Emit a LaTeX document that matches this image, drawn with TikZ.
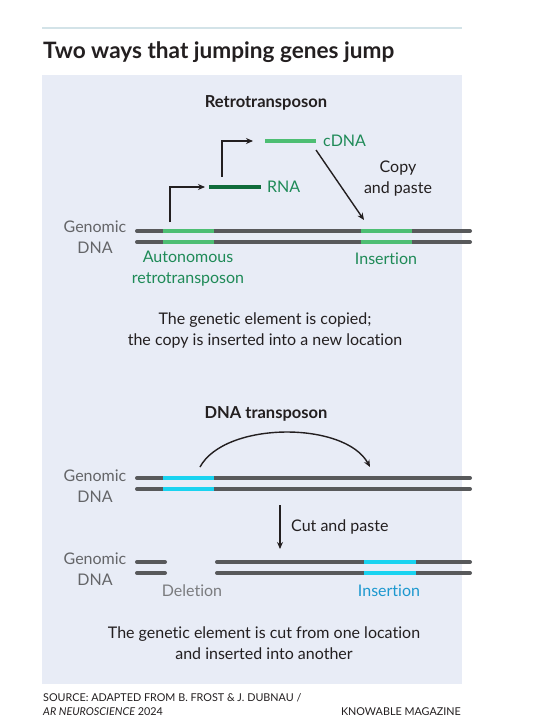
\documentclass[tikz,border=0pt]{standalone}
\usepackage{fontspec}
\setmainfont{Lato}[Ligatures=NoCommon]
\usetikzlibrary{arrows.meta}

\definecolor{panel}{HTML}{E8ECF6}
\definecolor{rulec}{HTML}{D3E3E8}
\definecolor{ink}{HTML}{231F20}
\definecolor{strandgray}{HTML}{58595B}
\definecolor{labgray}{HTML}{646568}
\definecolor{lightgreen}{HTML}{4DBE73}
\definecolor{darkgreen}{HTML}{0F6B3A}
\definecolor{greentext}{HTML}{1E8A57}
\definecolor{cyanseg}{HTML}{19D3F0}
\definecolor{bluetext}{HTML}{1C98CF}

\begin{document}
\begin{tikzpicture}[x=1pt, y=-1pt,
	strand/.style={line width=4pt, line cap=round, draw=strandgray},
	seg/.style={line width=4pt, draw=#1},
	jump/.style={line width=1.4pt, draw=ink, -{Stealth[length=7pt,width=6pt]}},
	lbl/.style={font=\fontsize{16}{21}\selectfont, inner sep=0pt, align=center},
	head/.style={font=\bfseries\fontsize{16.5}{18}\selectfont, inner sep=0pt, text=ink},
	foot/.style={font=\fontsize{10.8}{14}\selectfont, inner sep=0pt, text=ink}]
	\useasboundingbox (0,0) rectangle (552,719);
	\fill[white] (0,0) rectangle (552,719);
	\draw[rulec, line width=2pt] (42,28) -- (462,28);
	\node[font=\bfseries\fontsize{22.6}{26}\selectfont, anchor=base west, inner sep=0pt, text=ink] (title) at (43,59) {Two ways that jumping genes jump};
	\fill[panel] (42,75) rectangle (462,684);

	% retrotransposon
	\node[head] (rt) at (266,103) {Retrotransposon};
	\coordinate (g1l) at (137,231);
	\coordinate (g1r) at (470,231);
	\coordinate (g2l) at (137,242);
	\coordinate (g2r) at (470,242);
	\draw[strand] (g1l)--(g1r);
	\draw[strand] (g2l)--(g2r);
	\draw[seg=lightgreen] (163,231)--(214,231);
	\draw[seg=lightgreen] (163,242)--(214,242);
	\draw[seg=lightgreen] (361,231)--(412,231);
	\draw[seg=lightgreen] (361,242)--(412,242);
	\node[lbl, text=labgray] (gd1) at (95,237) {Genomic\\DNA};

	\coordinate (r1) at (209,187);
	\coordinate (r2) at (261,187);
	\draw[seg=darkgreen] (r1)--(r2);
	\node[lbl, anchor=west, text=greentext] (rna) at (267,187) {RNA};
	\coordinate (c1) at (265,141);
	\coordinate (c2) at (316,141);
	\draw[seg=lightgreen] (c1)--(c2);
	\node[lbl, anchor=west, text=greentext] (cdna) at (323,141) {cDNA};

	\coordinate (s1) at (170,222);
	\coordinate (s2) at (222,177);
	\coordinate (cs) at (316,150);
	\coordinate (ci) at (364,220);
	\draw[jump] (s1) |- ([xshift=-4pt]r1);
	\draw[jump] (s2) |- ([xshift=-12pt]c1);
	\draw[jump] (cs)--(ci);
	\node[lbl, text=ink] (cp) at (398,179) {Copy\\and paste};

	\node[lbl, text=greentext] (auto) at (188,269) {Autonomous\\retrotransposon};
	\node[lbl, text=greentext] (ins1) at (386,259) {Insertion};
	\node[lbl, text=ink] (cap1) at (265,330) {The genetic element is copied;\\the copy is inserted into a new location};

	% DNA transposon
	\node[head] (dt) at (266,414) {DNA transposon};
	\coordinate (h1l) at (137,478);
	\coordinate (h1r) at (470,478);
	\coordinate (h2l) at (137,489);
	\coordinate (h2r) at (470,489);
	\draw[strand] (h1l)--(h1r);
	\draw[strand] (h2l)--(h2r);
	\draw[seg=cyanseg] (163,478)--(214,478);
	\draw[seg=cyanseg] (163,489)--(214,489);
	\node[lbl, text=labgray] (gd2) at (95,486) {Genomic\\DNA};
	\coordinate (a1) at (200,467);
	\coordinate (a2) at (370,467);
	\draw[jump] (a1) .. controls (225,421) and (345,421) .. (a2);

	\coordinate (d1) at (280,505);
	\coordinate (d2) at (280,549);
	\draw[jump] (d1)--(d2);
	\node[lbl, anchor=west, text=ink] (cut) at (291,527) {Cut and paste};

	\coordinate (k1l) at (137,562);
	\coordinate (k1m) at (165,562);
	\coordinate (k2l) at (137,573);
	\coordinate (k2m) at (165,573);
	\coordinate (k1n) at (217,562);
	\coordinate (k1r) at (470,562);
	\coordinate (k2n) at (217,573);
	\coordinate (k2r) at (470,573);
	\draw[strand] (k1l)--(k1m);
	\draw[strand] (k2l)--(k2m);
	\draw[strand] (k1n)--(k1r);
	\draw[strand] (k2n)--(k2r);
	\draw[seg=cyanseg] (364,562)--(416,562);
	\draw[seg=cyanseg] (364,573)--(416,573);
	\node[lbl, text=labgray] (gd3) at (95,569) {Genomic\\DNA};
	\node[lbl, text=labgray!85] (del) at (192,591) {Deletion};
	\node[lbl, text=bluetext] (ins2) at (389,591) {Insertion};
	\node[lbl, text=ink] (cap2) at (264,643) {The genetic element is cut from one location\\and inserted into another};

	% footer
	\node[foot, anchor=west] (src1) at (43,698) {SOURCE: ADAPTED FROM B. FROST \& J. DUBNAU /};
	\node[foot, anchor=west] (src2) at (43,712) {\itshape AR NEUROSCIENCE\upshape{} 2024};
	\node[foot, anchor=east] (km) at (461,712) {KNOWABLE MAGAZINE};
\end{tikzpicture}
\end{document}
